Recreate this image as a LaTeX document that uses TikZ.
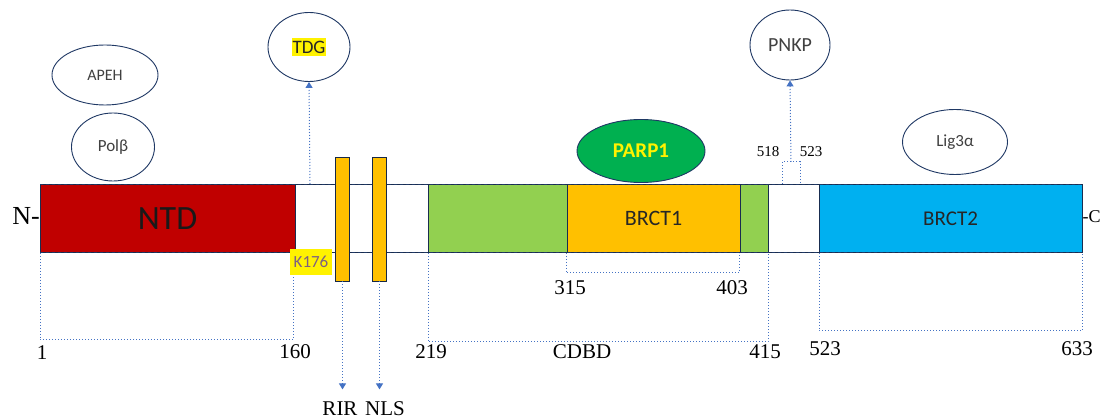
\documentclass[tikz,border=0pt]{standalone}
\usepackage{fontspec}
\setmainfont{Carlito}
\newfontfamily\numfont{Liberation Serif}
\usetikzlibrary{shapes.geometric,arrows.meta}
\definecolor{ntdred}{RGB}{192,0,0}
\definecolor{lgreen}{RGB}{146,208,80}
\definecolor{orng}{RGB}{255,192,0}
\definecolor{cyanb}{RGB}{0,176,240}
\definecolor{pgreen}{RGB}{0,176,80}
\definecolor{navy}{RGB}{31,56,100}
\definecolor{lnblue}{RGB}{68,114,196}
\definecolor{ktext}{RGB}{125,96,130}
\definecolor{txtgray}{RGB}{64,64,64}
\tikzset{
  seg/.style={draw=navy!80!black, line width=0.8pt, inner sep=0pt, outer sep=0pt, minimum height=68},
  prot/.style={ellipse, draw=navy, line width=0.9pt, fill=white, inner sep=0pt, text=txtgray},
  link/.style={draw=lnblue, dotted, line width=1pt},
  arr/.style={link, -{Triangle[length=6pt,width=7pt]}},
  num/.style={font=\numfont\fontsize{21}{21}\selectfont, inner sep=0pt},
  sfl/.style={font=\fontsize{17}{17}\selectfont, inner sep=0pt}
}
\begin{document}
\begin{tikzpicture}[x=1pt,y=-1pt]
\clip (0,0) rectangle (1101,419);
\useasboundingbox (0,0) rectangle (1101,419);
\fill[white] (0,0) rectangle (1101,419);
% bar segments
\node[seg, fill=ntdred, minimum width=255] (ntd) at (167.5,218.5) {\fontsize{34}{34}\selectfont\color{black!90} NTD};
\node[seg, fill=white, minimum width=133] (w1) at (361.5,218.5) {};
\node[seg, fill=lgreen, minimum width=139] (g1) at (497.5,218.5) {};
\node[seg, fill=orng, minimum width=173] (brct1) at (653.5,218.5) {\fontsize{22}{22}\selectfont\color{black!85} BRCT1};
\node[seg, fill=lgreen, minimum width=28] (g2) at (754,218.5) {};
\node[seg, fill=white, minimum width=51] (w2) at (793.5,218.5) {};
\node[seg, fill=cyanb, minimum width=263] (brct2) at (950.5,218.5) {\fontsize{21}{21}\selectfont\color{black!85} BRCT2};
\draw[navy, dashed, line width=0.9pt] (40,184.5) -- (1082,184.5);
\draw[navy, dashed, line width=0.9pt] (40,252.5) -- (1082,252.5);
% RIR / NLS bars
\node[draw=navy!70!black, fill=orng, line width=0.8pt, minimum width=14, minimum height=124, inner sep=0pt] (rir) at (342.5,219) {};
\node[draw=navy!70!black, fill=orng, line width=0.8pt, minimum width=14, minimum height=124, inner sep=0pt] (nls) at (379.5,219) {};
% ends
\node[num, font=\numfont\fontsize{26}{26}\selectfont, anchor=east] (nterm) at (40,216) {N-};
\node[num, font=\numfont\fontsize{18}{18}\selectfont, anchor=west] (cterm) at (1082.5,217) {-C};
% partner proteins
\node[prot, minimum width=106, minimum height=60] (apeh) at (105,75) {\fontsize{16}{16}\selectfont APEH};
\node[prot, minimum width=83, minimum height=68] (polb) at (113,147) {\fontsize{17}{17}\selectfont Polβ};
\node[prot, minimum width=82, minimum height=69] (tdg) at (309,47) {\fontsize{19}{19}\selectfont\colorbox{yellow}{\kern-2pt\color{black!85}TDG\kern-2pt}};
\node[prot, fill=pgreen, minimum width=128, minimum height=63] (parp) at (641,151) {\fontsize{21}{21}\selectfont\bfseries\color{yellow} PARP1};
\node[prot, minimum width=80, minimum height=70] (pnkp) at (790,45) {\fontsize{20}{20}\selectfont PNKP};
\node[prot, minimum width=105, minimum height=65] (lig) at (955,142) {\fontsize{17}{17}\selectfont Lig3α};
% K176
\node[fill=yellow, minimum width=42, minimum height=26, inner sep=0pt, font=\fontsize{17}{17}\selectfont, text=ktext] (k176) at (311,262) {K176};
% TDG and PNKP arrows
\coordinate (tdgfoot) at (310,184);
\draw[arr] (tdgfoot) -- (tdg.south);
\coordinate (p518) at (782,184);
\coordinate (p523) at (800,184);
\coordinate (p518t) at (782,162);
\coordinate (p523t) at (800,162);
\coordinate (pmid) at (791,162);
\draw[link] (p518) -- (p518t) -- (p523t) -- (p523);
\draw[arr] (pmid) -- (pnkp.south);
\node[num, font=\numfont\fontsize{15}{15}\selectfont] (l518) at (768,152) {518};
\node[num, font=\numfont\fontsize{15}{15}\selectfont] (l523) at (811,152) {523};
% RIR / NLS arrows
\node[num] (lrir) at (340,409) {RIR};
\node[num] (lnls) at (385,409) {NLS};
\draw[arr] (rir.south) -- ++(0,108);
\draw[arr] (nls.south) -- ++(0,108);
% brackets
\coordinate (b1a) at (40,253);
\coordinate (b1b) at (40,340);
\coordinate (b1c) at (293,340);
\draw[link] (b1a) -- (b1b) -- (b1c) -- (k176.south -| b1c);
\coordinate (b2a) at (428,253);
\coordinate (b2b) at (428,342);
\coordinate (b2c) at (768,342);
\coordinate (b2d) at (768,253);
\draw[link] (b2a) -- (b2b) -- (b2c) -- (b2d);
\coordinate (b3a) at (566,253);
\coordinate (b3b) at (566,273);
\coordinate (b3c) at (739,273);
\coordinate (b3d) at (739,253);
\draw[link] (b3a) -- (b3b) -- (b3c) -- (b3d);
\coordinate (b4a) at (819,253);
\coordinate (b4b) at (819,331);
\coordinate (b4c) at (1082,331);
\coordinate (b4d) at (1082,253);
\draw[link] (b4a) -- (b4b) -- (b4c) -- (b4d);
% numbers
\node[num] (n1) at (42,353) {1};
\node[num] (n160) at (295,352) {160};
\node[num] (n219) at (431,352) {219};
\node[num] (ncdbd) at (582,352) {CDBD};
\node[num] (n415) at (765,352) {415};
\node[num] (n523) at (825,349) {523};
\node[num] (n633) at (1077,349) {633};
\node[num] (n315) at (570,288) {315};
\node[num] (n403) at (732,288) {403};
\end{tikzpicture}
\end{document}
